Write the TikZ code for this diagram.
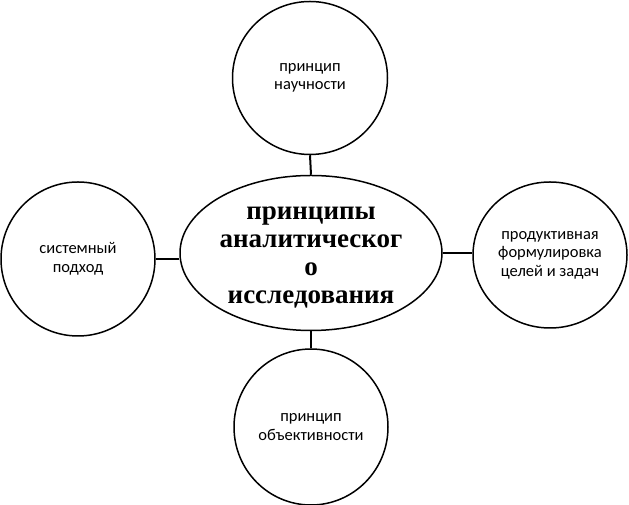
\documentclass[tikz,border=0pt]{standalone}
\usepackage{fontspec}
\setmainfont{Liberation Serif}
\newfontfamily\smallfont{Carlito}
\usetikzlibrary{shapes.geometric}
\tikzset{
	bubble/.style={draw,ellipse,line width=1.5pt,inner sep=0pt,align=center,
		font=\smallfont\fontsize{16.5}{18.5}\selectfont},
	hub/.style={draw,ellipse,line width=1.5pt,inner sep=0pt,
		minimum width=262pt,minimum height=155pt},
	hubtext/.style={inner sep=0pt,align=center,
		font=\bfseries\fontsize{27}{28}\selectfont},
	link/.style={line width=2pt}
}
\begin{document}
\begin{tikzpicture}[x=1pt,y=1pt,line join = round]
				\useasboundingbox (0,0) rectangle (629,505);
				\node[hub] (main) at (311,252) {};
				\node[hubtext] (maintext) at ([yshift=-4pt]main.center) {принципы\\аналитическог\\о\\исследования};
				\node[bubble,minimum width=155pt,minimum height=153pt] (top) at (310,427) {принцип\\научности};
				\node[bubble,minimum width=154pt,minimum height=156pt] (bottom) at (311,78) {принцип\\объективности};
				\node[bubble,minimum width=154pt,minimum height=154pt] (left) at (78,246) {системный\\подход};
				\node[bubble,minimum width=154pt,minimum height=146pt] (right) at (550,250) {продуктивная\\формулировка\\целей и задач};
				
				\draw[link] (top.south) -- (main.north);
				\draw[link] (main.south) -- (bottom.north);
				\draw[link] (left.east) -- (left.east -| main.west);
				\draw[link] (main.east) -- (main.east -| right.west);
			\end{tikzpicture}
\end{document}
